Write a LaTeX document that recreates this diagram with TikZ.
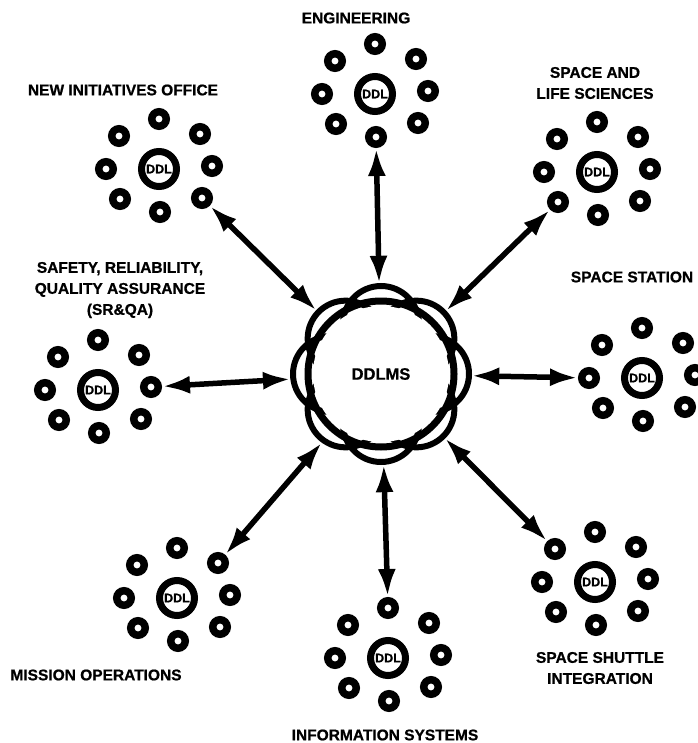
\documentclass[tikz,border=0pt]{standalone}
\usepackage{fontspec}
\setmainfont{Liberation Sans}
\newfontfamily\heavy[FakeBold=0.8]{Liberation Sans Bold}
\usetikzlibrary{arrows.meta,calc}
\newcommand\ddlcluster[2]{%
  \node[ddlring] (#1) at (#2) {DDL};
  \foreach \nm/\dx/\dy in {t/0/-50, ur/41/-35, r/53/-3, lr/43/29, b/1/43, ll/-39/30, l/-53/0, ul/-40/-33}
    \node[smallring] (#1-\nm) at ($(#1)+(\dx,\dy)$) {};
}
\begin{document}
\begin{tikzpicture}[x=1pt,y=-1pt,
  smallring/.style={circle,draw,line width=7.5pt,minimum size=14.5pt,inner sep=0pt},
  ddlring/.style={circle,draw,line width=7pt,minimum size=35pt,inner sep=0pt,font=\heavy\fontsize{12.5}{12.5}\selectfont},
  lab/.style={font=\heavy\fontsize{15.5}{21}\selectfont,align=center},
  link/.style={{Latex[length=28pt,width=18pt]}-{Latex[length=28pt,width=18pt]},line width=5.5pt},
  bump/.style={line width=6pt}]
\useasboundingbox (0,0) rectangle (697,743);
% hub
\foreach \a in {0,45,...,315}
  \draw[bump] ($(381,374)+(\a:50pt)$) circle (38pt);
\fill[white] (381,374) circle (68pt);
\draw[line width=7pt] (381,374) circle (73pt);
\node[circle,minimum size=180pt,inner sep=0pt,font=\heavy\fontsize{16.5}{16.5}\selectfont] (hub) at (381,374) {DDLMS};
% clusters
\ddlcluster{nio}{159,169}
\ddlcluster{eng}{375,94}
\ddlcluster{sls}{597,172}
\ddlcluster{ss}{642,378}
\ddlcluster{ssi}{595,582}
\ddlcluster{is}{388,658}
\ddlcluster{mo}{177,598}
\ddlcluster{srqa}{98,390}
% links
\draw[link] (nio-lr) -- (hub);
\draw[link] (eng-b) -- (hub);
\draw[link] (sls-ll) -- (hub);
\draw[link] (ss-l) -- (hub);
\draw[link] (ssi-ul) -- (hub);
\draw[link] (is-t) -- (hub);
\draw[link] (mo-ur) -- (hub);
\draw[link] (srqa-r) -- (hub);
% labels
\node[lab] (l-eng) at (356,18) {ENGINEERING};
\node[lab] (l-sls) at (595,83) {SPACE AND\\LIFE SCIENCES};
\node[lab] (l-nio) at (123,90) {NEW INITIATIVES OFFICE};
\node[lab] (l-srqa) at (120,290) {SAFETY, RELIABILITY,\\QUALITY ASSURANCE\\(SR\&QA)};
\node[lab] (l-ss) at (632,277) {SPACE STATION};
\node[lab] (l-ssi) at (600,668) {SPACE SHUTTLE\\INTEGRATION};
\node[lab] (l-is) at (385,735) {INFORMATION SYSTEMS};
\node[lab] (l-mo) at (96,675) {MISSION OPERATIONS};
\end{tikzpicture}
\end{document}
